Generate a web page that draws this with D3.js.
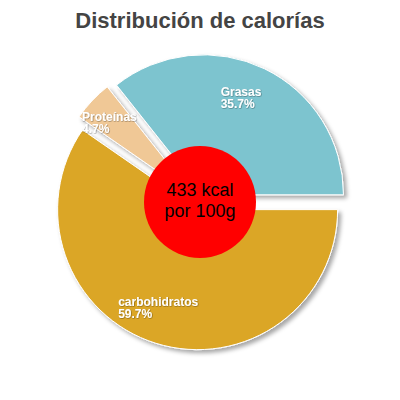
<!DOCTYPE html>
<html><head><meta charset="utf-8">
<script src="https://cdn.jsdelivr.net/npm/d3@7"></script>
<style>body{margin:0;background:#fff}</style>
</head><body>
<svg id="c" width="400" height="400"></svg>
<script>
var labels = ["carbohidratos", "Proteínas", "Grasas"];
var values = [59.7, 4.7, 35.7];
var colors = ["#dba626", "#f0c896", "#7dc4cf"];
var kcal = "433 kcal", per = "por 100g";

var svg = d3.select("#c");
var cx = 200, cy = 202, r = 140, off = 8;

svg.append("text").attr("x", 200).attr("y", 28).attr("text-anchor", "middle")
  .style("font", "bold 22px 'Liberation Sans', Arial, sans-serif").style("fill", "#444")
  .text("Distribución de calorías");

var defs = svg.append("defs");
var f = defs.append("filter").attr("id", "sh").attr("x", "-20%").attr("y", "-20%").attr("width", "140%").attr("height", "140%");
f.append("feDropShadow").attr("dx", 3).attr("dy", 3).attr("stdDeviation", 2).attr("flood-color", "#000").attr("flood-opacity", 0.35);
var f2 = defs.append("filter").attr("id", "tsh");
f2.append("feDropShadow").attr("dx", 0.5).attr("dy", 0.5).attr("stdDeviation", 0.6).attr("flood-color", "#000").attr("flood-opacity", 0.5);

var pie = d3.pie().sort(null).startAngle(Math.PI / 2).endAngle(Math.PI / 2 + 2 * Math.PI);
var arc = d3.arc().innerRadius(0).outerRadius(r);
var arcs = pie(values);

var g = svg.append("g").attr("transform", "translate(" + cx + "," + cy + ")");
var slices = g.selectAll("g.s").data(arcs).enter().append("g").attr("class", "s")
  .attr("transform", function (d) {
    var a = (d.startAngle + d.endAngle) / 2;
    return "translate(" + (Math.sin(a) * off) + "," + (-Math.cos(a) * off) + ")";
  });
slices.append("path").attr("d", arc).attr("fill", function (d, i) { return colors[i]; })
  .attr("stroke", "#fff").attr("stroke-width", 1).attr("filter", "url(#sh)");

var la = d3.arc().innerRadius(r * 0.75).outerRadius(r * 0.75);
var labelG = g.append("g");
arcs.forEach(function (d, i) {
  var p = la.centroid(d);
  var a = (d.startAngle + d.endAngle) / 2;
  p[0] += Math.sin(a) * off; p[1] += -Math.cos(a) * off;
  var t = labelG.append("text")
    .style("font", "bold 12px 'Liberation Sans', Arial, sans-serif").style("fill", "#fff")
    .attr("filter", "url(#tsh)");
  t.append("tspan").attr("x", 0).attr("dy", 0).text(labels[i]);
  t.append("tspan").attr("x", 0).attr("dy", 12).text(values[i].toFixed(1) + "%");
  var w = t.node().getBBox().width;
  t.attr("transform", "translate(" + (p[0] - w / 2 - 8) + "," + (p[1] - 4) + ")");
});

g.append("circle").attr("r", 56).attr("fill", "#ff0000");
g.append("text").attr("text-anchor", "middle").attr("y", -6)
  .style("font", "18px 'Liberation Sans', Arial, sans-serif").text(kcal);
g.append("text").attr("text-anchor", "middle").attr("y", 15)
  .style("font", "18px 'Liberation Sans', Arial, sans-serif").text(per);
</script>
</body></html>
